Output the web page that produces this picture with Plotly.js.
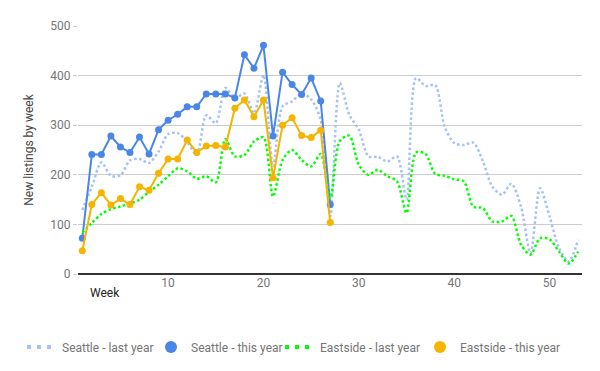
<!DOCTYPE html>
<html>
<head>
<meta charset="utf-8">
<script src="https://cdn.plot.ly/plotly-3.0.1.min.js"></script>
<style>html,body{margin:0;padding:0;background:#fff;}#chart{width:600px;height:371px;}</style>
</head>
<body>
<div id="chart"></div>
<script>
// Weeks
const weeksLast = Array.from({length: 53}, (_, i) => i + 1);
const weeksThis = Array.from({length: 27}, (_, i) => i + 1);

// Series values
const seattleLast = [129,176,225,198,199,229,232,224,247,282,284,267,240,320,304,375,354,364,324,401,217,338,348,364,352,311,116,385,321,291,237,236,227,237,150,395,379,381,297,264,260,265,228,176,160,182,136,42,173,116,52,25,69];
const seattleThis = [72,241,241,278,256,245,276,242,291,310,322,337,337,363,363,363,355,442,415,461,278,407,382,362,395,349,140];
const eastsideLast = [83,103,121,131,136,142,150,166,180,197,213,207,192,197,185,272,237,240,267,276,156,230,250,230,217,242,153,268,279,220,200,210,197,187,123,245,242,202,198,191,187,136,133,106,106,117,59,39,72,70,45,21,45];
const eastsideThis = [47,140,164,139,152,140,176,169,203,232,232,270,245,258,259,256,334,351,317,351,194,300,315,279,275,290,104];

const seriesNames = ["Seattle - last year", "Seattle - this year", "Eastside - last year", "Eastside - this year"];
const seriesColors = ['#a4c2f4', '#4a86e8', '#00ff00', '#f4b400'];
const xTicks = [10, 20, 30, 40, 50];
const yTicks = [0, 100, 200, 300, 400, 500];

const dotted = (c) => ({color: c, width: 2.5, dash: '2.5px,2.5px', shape: 'spline', smoothing: 0.8});

const traces = [
  {x: weeksLast, y: seattleLast, name: seriesNames[0], type: 'scatter', mode: 'lines',
   line: dotted(seriesColors[0]), showlegend: false},
  {x: weeksThis, y: seattleThis, name: seriesNames[1], type: 'scatter', mode: 'lines+markers',
   line: {color: seriesColors[1], width: 2}, marker: {color: seriesColors[1], size: 7}, showlegend: false},
  {x: weeksLast, y: eastsideLast, name: seriesNames[2], type: 'scatter', mode: 'lines',
   line: dotted(seriesColors[2]), showlegend: false},
  {x: weeksThis, y: eastsideThis, name: seriesNames[3], type: 'scatter', mode: 'lines+markers',
   line: {color: seriesColors[3], width: 2}, marker: {color: seriesColors[3], size: 7}, showlegend: false}
];

// legend keys, one legend box each so they can be spaced like the original
const legendIds = ['legend', 'legend2', 'legend3', 'legend4'];
seriesNames.forEach((n, i) => {
  const last = (i % 2 === 0);
  const base = {x: [null], y: [null], name: n, type: 'scatter', legend: legendIds[i]};
  traces.push(last
    ? Object.assign(base, {mode: 'lines', line: {color: seriesColors[i], width: 4, dash: '4px,6px'}})
    : Object.assign(base, {mode: 'markers', marker: {color: seriesColors[i], size: 12}}));
});

const legendX = [22, 151, 280, 420];
const mkLegend = (px) => ({orientation: 'h', xref: 'container', yref: 'container',
  x: px / 600, xanchor: 'left', y: 1 - 347 / 371, yanchor: 'middle',
  font: {size: 12, color: '#757575'}, itemwidth: 30, bgcolor: 'rgba(0,0,0,0)'});

const layout = {
  width: 600, height: 371,
  margin: {l: 78, r: 18, t: 26, b: 97},
  paper_bgcolor: '#fff', plot_bgcolor: '#fff',
  font: {family: 'Roboto, Arial, sans-serif', size: 12, color: '#757575'},
  showlegend: true,
  legend: mkLegend(legendX[0]),
  legend2: mkLegend(legendX[1]),
  legend3: mkLegend(legendX[2]),
  legend4: mkLegend(legendX[3]),
  xaxis: {range: [0.55, 53.4], tickvals: xTicks, ticktext: xTicks.map(String),
          showgrid: false, zeroline: false, showline: false, ticks: '',
          tickfont: {size: 12, color: '#757575'}, fixedrange: true},
  yaxis: {range: [0, 500], tickvals: yTicks, ticktext: yTicks.map(String),
          showgrid: true, gridcolor: '#cccccc', gridwidth: 1, zeroline: true,
          zerolinecolor: '#333333', zerolinewidth: 1.5, showline: false,
          ticks: 'outside', ticklen: 4, tickcolor: '#cccccc',
          tickfont: {size: 12, color: '#757575'},
          title: {text: 'New listings by week', font: {size: 12, color: '#444444'}, standoff: 14}},
  annotations: [{text: 'Week', xref: 'paper', yref: 'paper', x: 0.02, y: -0.077,
                 xanchor: 'left', yanchor: 'middle', showarrow: false,
                 font: {size: 12, color: '#222222'}}]
};

Plotly.newPlot('chart', traces, layout, {displayModeBar: false, staticPlot: true});
</script>
</body>
</html>
